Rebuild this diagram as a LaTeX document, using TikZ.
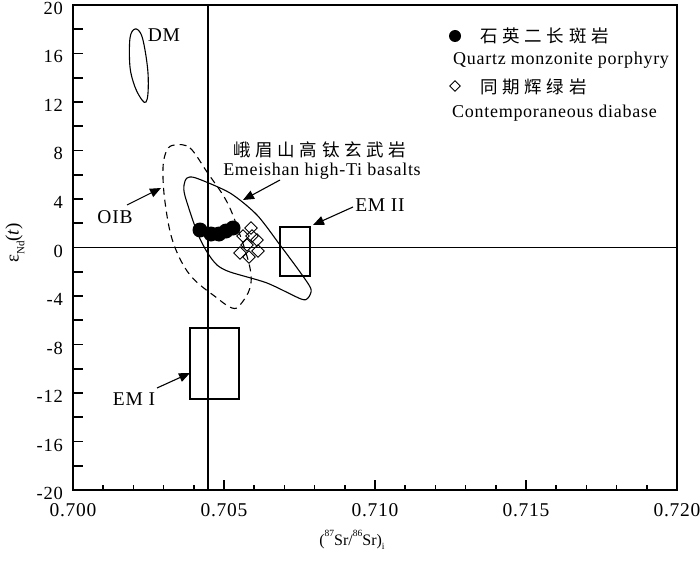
\documentclass[tikz,border=0pt]{standalone}
\usepackage{fontspec}
\setmainfont{Liberation Serif}[LetterSpace=4]
\newfontfamily\plainserif{Liberation Serif}
\newfontfamily\cjk{Noto Sans CJK SC}[LetterSpace=27]
\usetikzlibrary{arrows.meta,shapes.geometric}
\tikzset{
  axisline/.style={line width=2pt},
  refline/.style={line width=1.1pt},
  fieldline/.style={line width=1.1pt},
  oibline/.style={line width=1.1pt,dash pattern=on 7pt off 5pt},
  ptarrow/.style={line width=1.1pt,-{Triangle[length=11pt,width=9pt]}},
  dotpt/.style={circle,fill=black,inner sep=0pt,minimum size=15pt},
  diampt/.style={diamond,draw,line width=0.9pt,inner sep=0pt,minimum width=13pt,minimum height=13pt},
  lbl/.style={inner sep=0pt,font=\fontsize{19.5}{21}\selectfont},
  ylbl/.style={inner sep=0pt,font=\fontsize{18.5}{20}\selectfont,anchor=base east},
  leg/.style={inner sep=0pt,font=\fontsize{18}{20}\selectfont,anchor=base west},
  cjklbl/.style={inner sep=0pt,font=\fontsize{17.5}{20}\cjk},
  tick/.style={line width=1.6pt}
}
\begin{document}
\begin{tikzpicture}[x=1pt,y=-1pt]
\useasboundingbox (0,0) rectangle (700,564);
% reference lines
\draw[refline] (73,247.5) -- (677,247.5);
\draw[refline] (208,5) -- (208,490);
% frame
\draw[axisline] (73,5) rectangle (677,490);
% y ticks
\foreach \e in {-18,-16,...,18}{
  \draw[tick] (73,{247.5-12.125*\e}) -- (83,{247.5-12.125*\e});
}
\foreach \e in {-20,-16,...,20}{
  \node[ylbl] at (63,{257-12.125*\e}) {\e};
}
% x ticks
\foreach \v in {1,2,3,4,6,7,8,9,11,12,13,14,16,17,18,19}{
  \draw[tick] ({73+30.2*\v},490) -- ({73+30.2*\v},485);
}
\foreach \v in {5,10,15}{
  \draw[tick] ({73+30.2*\v},490) -- ({73+30.2*\v},480);
}
\node[lbl] (x0) at (73,510) {0.700};
\node[lbl] (x5) at (224,510) {0.705};
\node[lbl] (x10) at (375,510) {0.710};
\node[lbl] (x15) at (526,510) {0.715};
\node[lbl] (x20) at (677,510) {0.720};
% axis titles
\node[inner sep=0pt,font=\fontsize{16}{18}\plainserif] (xt) at (352,540) {(\raisebox{0.55em}{\fontsize{9.5}{10}\selectfont 87}Sr/\raisebox{0.55em}{\fontsize{9.5}{10}\selectfont 86}Sr)\raisebox{-0.3em}{\fontsize{9.5}{10}\selectfont i}};
\node[inner sep=0pt,font=\fontsize{19}{21}\plainserif,rotate=90] (yt) at (15,243) {ε\raisebox{-0.3em}{\fontsize{11}{12}\selectfont Nd}(\textit{t})};
% DM field
\draw[fieldline] plot[smooth cycle,tension=0.6] coordinates {(135,29) (141,34) (145,50) (148,73) (148,93) (146,102) (142,100) (135,87) (130,67) (130,38)};
\node[lbl] (dm) at (164,35) {DM};
% OIB field
\draw[oibline] plot[smooth cycle,tension=0.6] coordinates {(175,145) (190,148) (207,172) (227,202) (240,235) (250,268) (250,288) (240,305) (232,308) (217,298) (190,275) (173,242) (165,202) (163,168) (167,150)};
% Emeishan field
\draw[fieldline] plot[smooth cycle,tension=0.45] coordinates {(187,178) (196,178) (230,193) (257,215) (280,245) (300,272) (311,289) (308,298) (301,299) (267,283) (230,272) (217,265) (207,252) (197,232) (185,196) (184,185)};
% EM boxes
\draw[fieldline] (280,227) rectangle (310,276);
\draw[fieldline] (190,328) rectangle (239,399);
% data points
\foreach \p [count=\i] in {(200,230),(211,234),(219,234),(226,231),(233,228)}{
  \node[dotpt] (q\i) at \p {};
}
\foreach \p [count=\i] in {(251,228),(243,236),(257,240),(247,245),(258,251),(240,253),(249,257),(252,236)}{
  \node[diampt] (d\i) at \p {};
}
% labels and arrows
\node[lbl] (oib) at (115,217) {OIB};
\coordinate (oibtail) at (127,205);
\coordinate (oibtip) at (161,188);
\draw[ptarrow] (oibtail) -- (oibtip);
\node[lbl] (em1) at (134,399) {EM I};
\coordinate (em1tail) at (157,388);
\coordinate (em1tip) at (190,373);
\draw[ptarrow] (em1tail) -- (em1tip);
\node[lbl] (em2) at (380,205) {EM II};
\coordinate (em2tail) at (353,207);
\coordinate (em2tip) at (313,225);
\draw[ptarrow] (em2tail) -- (em2tip);
\node[cjklbl,anchor=west] (emcn) at (233,150) {峨眉山高钛玄武岩};
\node[inner sep=0pt,font=\fontsize{18}{20}\selectfont,anchor=base] (emen) at (322,175) {Emeishan high-Ti basalts};
\coordinate (emtail) at (280,180);
\coordinate (emtip) at (243,200);
\draw[ptarrow] (emtail) -- (emtip);
% legend
\node[dotpt,minimum size=12pt] (legdot) at (455,36) {};
\node[cjklbl,anchor=west] (legcn1) at (480,36) {石英二长斑岩};
\node[leg] (legen1) at (453,65) {Quartz monzonite porphyry};
\node[diampt,minimum width=11pt,minimum height=11pt] (legdiam) at (455,86) {};
\node[cjklbl,anchor=west] (legcn2) at (480,87) {同期辉绿岩};
\node[leg] (legen2) at (452,118) {Contemporaneous diabase};
\end{tikzpicture}
\end{document}
